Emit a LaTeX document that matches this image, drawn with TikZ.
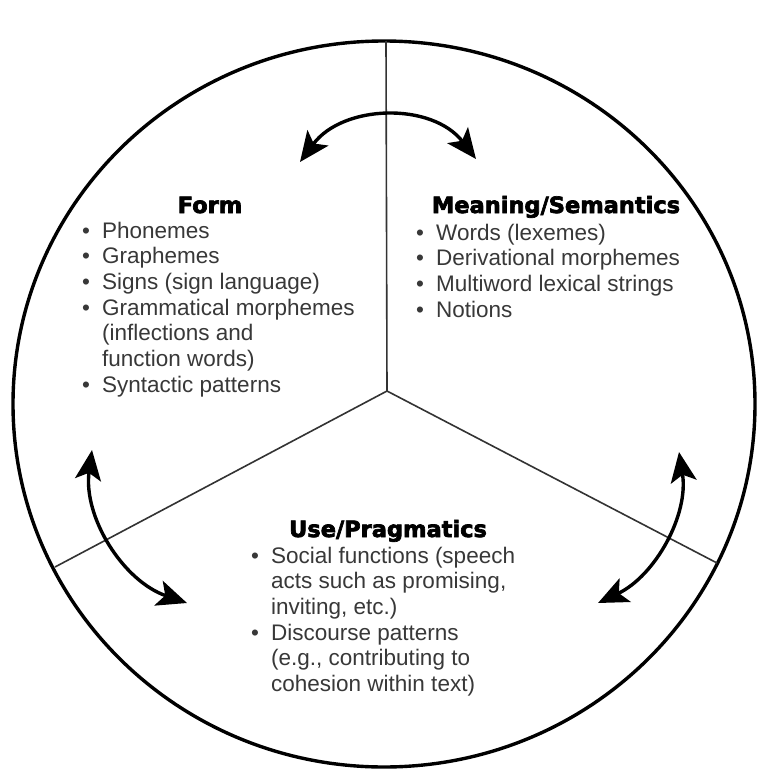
\documentclass[tikz,border=0pt]{standalone}
\usepackage{fontspec}
\setmainfont{Liberation Sans}
\newfontfamily\headfont[FakeBold=3]{DejaVu Sans}
\usetikzlibrary{arrows.meta,shapes.geometric}
\newcommand{\listfont}{\fontsize{22.5}{25.7}\selectfont}
\newcommand{\bul}{\makebox[20pt][l]{\textbullet}}
\newcommand{\ind}{\hspace*{20pt}}
\begin{document}
\begin{tikzpicture}[x=1pt,y=-1pt,
  ring/.style={ellipse, draw, line width=3.4pt, inner sep=0pt, minimum width=742pt, minimum height=726pt},
  divider/.style={line width=1.6pt, black!80},
  tipshape/.style={},
  twoway/.style={line width=3.4pt, {Stealth[length=30pt,width=26pt,inset=7pt]}-{Stealth[length=30pt,width=26pt,inset=7pt]}},
  head/.style={font=\headfont\bfseries\fontsize{22.5}{26}\selectfont, inner sep=0pt, anchor=base},
  body/.style={inner sep=0pt, anchor=base west, text=black!78}]
\useasboundingbox (0,0) rectangle (757,771);
\fill[white] (0,0) rectangle (757,771);

% outer circle
\node[ring] (circ) at (384,404) {};

% dividers
\coordinate (hub) at (387,391);
\coordinate (topend) at (386,41);
\coordinate (leftend) at (55,567);
\coordinate (rightend) at (717,563);
\draw[divider] (hub) -- (topend);
\draw[divider] (hub) -- (leftend);
\draw[divider] (hub) -- (rightend);

% two-way arrows
\coordinate (fm1) at (300,162);
\coordinate (fm2) at (476,159);
\draw[twoway] (fm1) .. controls (343,104) and (432,102) .. (fm2);
\coordinate (fu1) at (92,450);
\coordinate (fu2) at (187,603);
\draw[twoway] (fu1) .. controls (83,517) and (123,581) .. (fu2);
\coordinate (mu1) at (679,452);
\coordinate (mu2) at (598,603);
\draw[twoway] (mu1) .. controls (689,515) and (655,576) .. (mu2);

% Form
\node[head] (formhead) at (210,213) {Form};
\node[body] (formlist) at (82,238) {\parbox[t]{320pt}{\listfont
\bul Phonemes\\
\bul Graphemes\\
\bul Signs (sign language)\\
\bul Grammatical morphemes\\
\ind (inflections and\\
\ind function words)\\
\bul Syntactic patterns}};

% Meaning
\node[head] (meanhead) at (556,213) {Meaning/Semantics};
\node[body] (meanlist) at (416,240) {\parbox[t]{320pt}{\listfont
\bul Words (lexemes)\\
\bul Derivational morphemes\\
\bul Multiword lexical strings\\
\bul Notions}};

% Use
\node[head] (usehead) at (388,537) {Use/Pragmatics};
\node[body] (uselist) at (251,563) {\parbox[t]{320pt}{\listfont
\bul Social functions (speech\\
\ind acts such as promising,\\
\ind inviting, etc.)\\
\bul Discourse patterns\\
\ind (e.g., contributing to\\
\ind cohesion within text)}};
\end{tikzpicture}
\end{document}
